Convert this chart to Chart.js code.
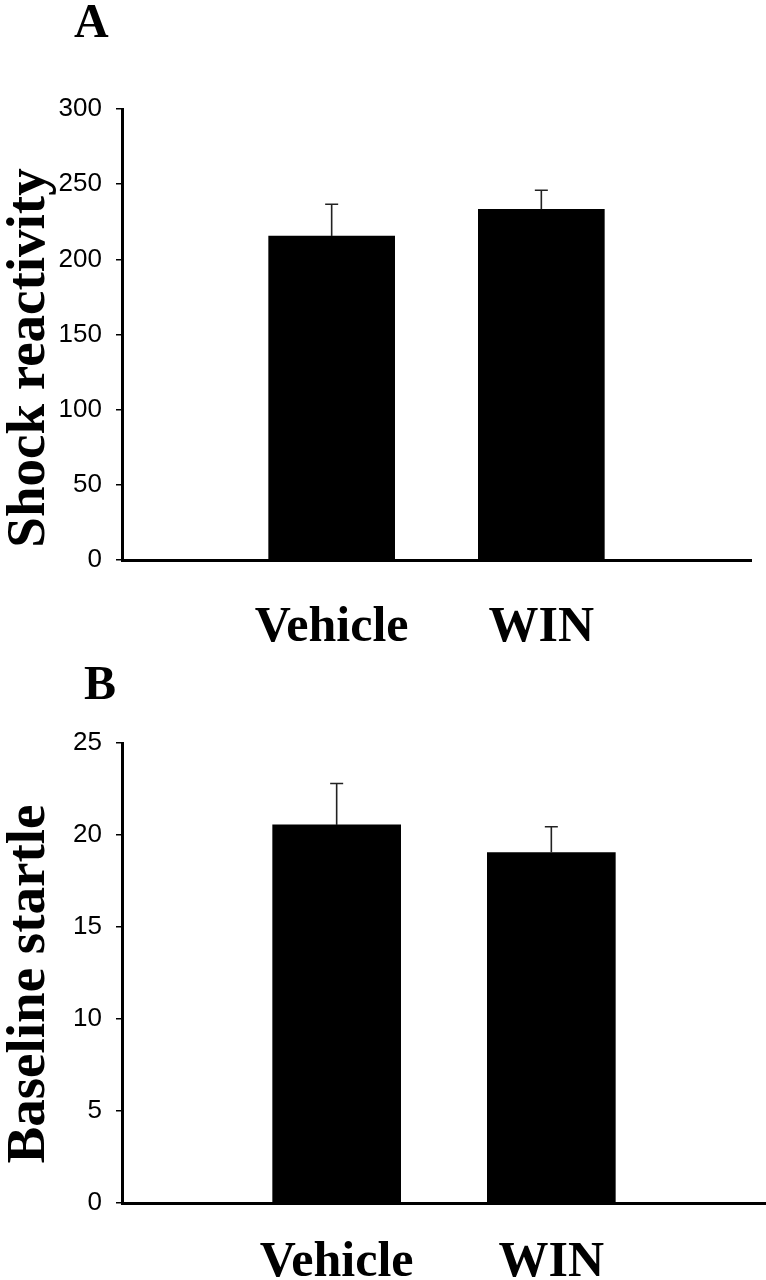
<!DOCTYPE html>
<html>
<head>
<meta charset="utf-8">
<script src="https://cdn.jsdelivr.net/npm/chart.js@4.4.1/dist/chart.umd.min.js"></script>
<style>
  body { margin: 0; background: #fff; }
  #page { position: relative; width: 766px; height: 1280px; overflow: hidden; background: #fff; }
  .panel { position: absolute; left: 0; width: 766px; }
  .tag { position: absolute; font: bold 48px "Liberation Serif", "Times New Roman", serif; line-height: 1; color: #000; }
</style>
</head>
<body>
<div id="page">
  <div class="panel" style="top:0; height:650px;"><canvas id="chartA" width="766" height="650"></canvas></div>
  <div class="panel" style="top:650px; height:630px;"><canvas id="chartB" width="766" height="630"></canvas></div>
  <div class="tag" style="left:74px; top:-3px;">A</div>
  <div class="tag" style="left:84px; top:659px;">B</div>
</div>
<script>
// groups on the x axis
const groups = ["Vehicle", "WIN"];

// panel A - shock reactivity (mean, SEM)
const shockMeans = [215.5, 233.3];
const shockSem = [21.1, 12.7];
const shockTicks = { max: 300, step: 50 };

// panel B - baseline startle (mean, SEM)
const startleMeans = [20.55, 19.05];
const startleSem = [2.25, 1.4];
const startleTicks = { max: 25, step: 5 };

const SERIF = '"Liberation Serif", "Times New Roman", serif';
const SANS = '"Liberation Sans", Arial, sans-serif';

// error bars (only the upper half shows above a black bar)
const errorBars = {
  id: "errorBars",
  afterDatasetsDraw(chart, args, opts) {
    const ctx = chart.ctx;
    const y = chart.scales.y;
    const meta = chart.getDatasetMeta(0);
    const means = chart.data.datasets[0].data;
    ctx.save();
    ctx.strokeStyle = opts.color;
    ctx.lineWidth = opts.width;
    meta.data.forEach((bar, i) => {
      const m = means[i], e = opts.errors[i];
      if (m == null || e == null) return;
      const top = y.getPixelForValue(m + e);
      const base = y.getPixelForValue(m);
      ctx.beginPath();
      ctx.moveTo(bar.x, base);
      ctx.lineTo(bar.x, top);
      ctx.moveTo(bar.x - opts.cap / 2, top);
      ctx.lineTo(bar.x + opts.cap / 2, top);
      ctx.stroke();
    });
    ctx.restore();
  }
};

// rotated y title, placed a bit off the axis middle like the original
const sideTitle = {
  id: "sideTitle",
  afterDraw(chart, args, opts) {
    const { ctx, chartArea } = chart;
    const cy = (chartArea.top + chartArea.bottom) / 2 + opts.shift;
    ctx.save();
    ctx.translate(opts.x, cy);
    ctx.rotate(-Math.PI / 2);
    ctx.font = "bold 55px " + SERIF;
    ctx.fillStyle = "#000";
    ctx.textAlign = "center";
    ctx.textBaseline = "alphabetic";
    ctx.fillText(opts.text, 0, 0);
    ctx.restore();
  }
};

function makePanel(id, means, sems, ticks, title, cfg) {
  // blank slots at both ends put the bars at 1/3 and 2/3 of the axis
  const labels = ["", ...groups, ""];
  return new Chart(document.getElementById(id), {
    type: "bar",
    data: {
      labels: labels,
      datasets: [{
        data: [null, ...means, null],
        backgroundColor: "#000",
        borderWidth: 0,
        barThickness: cfg.barWidth
      }]
    },
    options: {
      responsive: false,
      animation: false,
      layout: { padding: { top: cfg.top, right: cfg.right, left: 0, bottom: 0 } },
      plugins: {
        legend: { display: false },
        tooltip: { enabled: false },
        errorBars: { errors: [null, ...sems, null], cap: 13, width: 1.6, color: "#222" },
        sideTitle: { text: title, x: 44, shift: cfg.shift }
      },
      scales: {
        x: {
          type: "category",
          offset: false,
          grid: { display: false },
          border: { display: true, color: "#000", width: 3 },
          ticks: {
            autoSkip: false,
            maxRotation: 0,
            color: "#000",
            padding: cfg.labelPad,
            font: { family: SERIF, size: 50, weight: "bold", lineHeight: 1.2 }
          },
          afterFit: s => {
            s.height = cfg.xHeight;
            // the tick padding should not eat into the ends of the axis
            s.paddingLeft = 0;
            s.paddingRight = 0;
          }
        },
        y: {
          min: 0,
          max: ticks.max,
          grid: { drawOnChartArea: false, drawTicks: true, tickLength: 6, color: "#000", lineWidth: 1.5 },
          border: { display: true, color: "#000", width: 3 },
          ticks: {
            stepSize: ticks.step,
            color: "#000",
            padding: 14,
            font: { family: SANS, size: 26 }
          },
          afterFit: s => { s.width = 122; }
        }
      }
    },
    plugins: [errorBars, sideTitle]
  });
}

makePanel("chartA", shockMeans, shockSem, shockTicks, "Shock reactivity",
  { top: 109, right: 15, xHeight: 90, labelPad: 30, barWidth: 126, shift: 23.5 });

makePanel("chartB", startleMeans, startleSem, startleTicks, "Baseline startle",
  { top: 93, right: 0, xHeight: 77, labelPad: 22, barWidth: 128, shift: 11 });
</script>
</body>
</html>
